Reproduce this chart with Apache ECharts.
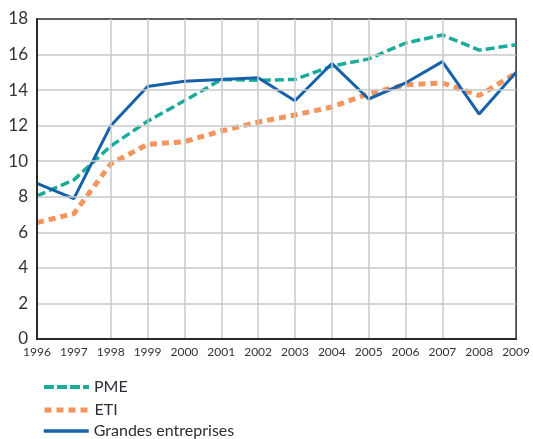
<!DOCTYPE html>
<html><head><meta charset="utf-8">
<script src="https://cdn.jsdelivr.net/npm/echarts@6/dist/echarts.min.js"></script>
<style>html,body{margin:0;padding:0;background:#fff}#c{width:533px;height:439px}</style>
</head><body><div id="c"></div>
<script>
const years = ['1996','1997','1998','1999','2000','2001','2002','2003','2004','2005','2006','2007','2008','2009'];
const pme = [8.05, 8.95, 10.85, 12.25, 13.4, 14.6, 14.55, 14.6, 15.35, 15.75, 16.65, 17.1, 16.25, 16.55];
const eti = [6.55, 7.05, 9.85, 10.95, 11.1, 11.7, 12.2, 12.6, 13.05, 13.8, 14.3, 14.4, 13.7, 14.95];
const grandes = [8.75, 7.9, 12.0, 14.2, 14.5, 14.6, 14.7, 13.4, 15.5, 13.5, 14.4, 15.6, 12.65, 15.0];
const yTicks = [0, 2, 4, 6, 8, 10, 12, 14, 16, 18];
const seriesNames = ['PME', 'ETI', 'Grandes entreprises'];

const legendTops = [372, 395, 416];
const legendLines = [
  {width: 4, type: [10, 3]},
  {width: 5, type: [7, 5]},
  {width: 3.5, type: 'solid'}
];
const chart = echarts.init(document.getElementById('c'));
chart.setOption({
  animation: false,
  grid: {left: 37, right: 16, top: 19, bottom: 100, show: true, borderColor: '#2a2a2a', borderWidth: 1.5, backgroundColor: 'transparent'},
  xAxis: {
    type: 'category', data: years, boundaryGap: false,
    axisLine: {lineStyle: {color: '#2a2a2a', width: 2}}, z: 5,
    axisTick: {show: false},
    axisLabel: {color: '#333', fontSize: 12, fontFamily: 'Lato', margin: 7, interval: 0},
    splitLine: {show: true, showMinLine: false, showMaxLine: false, interval: (i) => i > 0 && i < years.length - 1, lineStyle: {color: '#c8c8c8', width: 1.5}}
  },
  yAxis: {
    type: 'value', min: 0, max: 18, interval: 2,
    axisLine: {show: true, onZero: false, lineStyle: {color: '#2a2a2a', width: 2}}, z: 5,
    axisTick: {show: false},
    axisLabel: {color: '#333', fontSize: 17, fontFamily: 'Lato', margin: 9,
      formatter: v => yTicks.includes(v) ? String(v) : ''},
    splitLine: {show: true, showMinLine: false, showMaxLine: false, lineStyle: {color: '#c8c8c8', width: 1.5}}
  },
  legend: seriesNames.map((n, i) => ({
    orient: 'vertical', left: 37, top: legendTops[i], itemWidth: 45, itemHeight: 14, itemGap: 0,
    itemStyle: {opacity: 0},
    lineStyle: legendLines[i],
    textStyle: {color: '#2d2d38', fontSize: 16, fontFamily: 'Lato', lineHeight: 20},
    data: [n]
  })),
  series: [
    {name: 'ETI', type: 'line', data: eti, symbol: 'none', z: 2,
      lineStyle: {color: '#f4955e', width: 5, type: [7, 5]}, itemStyle: {color: '#f4955e'}},
    {name: 'PME', type: 'line', data: pme, symbol: 'none', z: 3,
      lineStyle: {color: '#1aab9b', width: 3.5, type: [9, 4]}, itemStyle: {color: '#1aab9b'}},
    {name: 'Grandes entreprises', type: 'line', data: grandes, symbol: 'none', z: 4,
      lineStyle: {color: '#1562ab', width: 3}, itemStyle: {color: '#1562ab'}}
  ]
});
</script></body></html>
